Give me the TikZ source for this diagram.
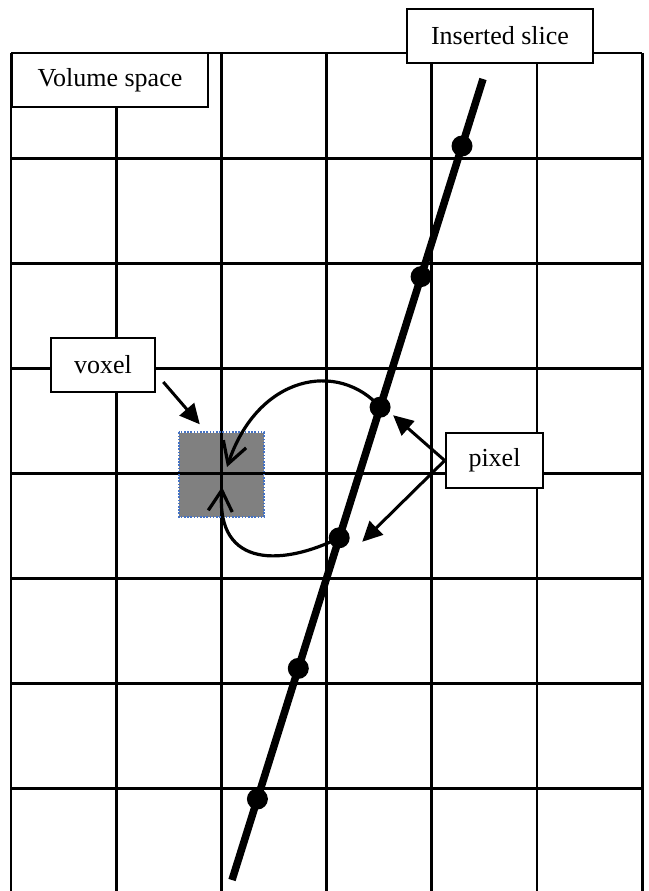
\documentclass[tikz,border=0pt]{standalone}
\usepackage{fontspec}
\setmainfont{Liberation Serif}
\usetikzlibrary{arrows.meta,calc}
\definecolor{dotblue}{RGB}{68,114,196}
\definecolor{voxgrey}{RGB}{128,128,128}
\tikzset{
  gridline/.style={line width=2.8pt,black},
  labelbox/.style={draw,fill=white,line width=2.6pt,inner sep=0pt,font=\fontsize{26}{30}\selectfont},
  slice/.style={line width=7.5pt,black},
  slicedot/.style={circle,fill=black,minimum size=21pt,inner sep=0pt},
  pointer/.style={line width=3pt,-{Triangle[length=20pt,width=19pt]}},
  loop/.style={line width=3.2pt,-{Straight Barb[length=21pt,width=24pt,line width=3.2pt]}},
}
\begin{document}
\begin{tikzpicture}[x=1pt,y=-1pt]
\useasboundingbox (0,0) rectangle (648,891);
% voxel fill
\node[minimum width=85pt,minimum height=84pt,inner sep=0pt,fill=voxgrey] (vox) at (221.5,474.5) {};
% grid
\foreach \i in {0,...,6} {
  \draw[gridline] ({11+105.2*\i},53) -- ({11+105.2*\i},891);
}
\foreach \j in {0,...,7} {
  \draw[gridline] (11,{53+105.1*\j}) -- (642.2,{53+105.1*\j});
}
% voxel dotted border
\draw[dotblue,line width=2pt,dash pattern=on 1.6pt off 1.6pt] (vox.north west) rectangle (vox.south east);
% slice line
\coordinate (st) at (483,79);
\coordinate (sb) at (232,880);
\draw[slice,line cap=butt] (st) -- (sb);
\node[slicedot] (d1) at (462.0,146.0) {};
\node[slicedot] (d2) at (421.1,276.6) {};
\node[slicedot] (d3) at (380.1,407.2) {};
\node[slicedot] (d4) at (339.2,537.8) {};
\node[slicedot] (d5) at (298.3,668.4) {};
\node[slicedot] (d6) at (257.4,799.0) {};
% labels
\node[labelbox,minimum width=196pt,minimum height=54pt] (vs) at (110,80) {Volume space};
\node[labelbox,minimum width=186pt,minimum height=54pt] (is) at (500,36) {Inserted slice};
\node[labelbox,minimum width=104pt,minimum height=54pt] (voxel) at (103,365) {voxel};
\node[labelbox,minimum width=97pt,minimum height=55pt] (pixel) at (494.5,460.5) {pixel};
% pointers
\draw[pointer] ($(voxel.east)+(7,17)$) -- ($(vox.north west)+(21,-8)$);
\draw[pointer] (pixel.west) -- ($(d3)+(13,8)$);
\draw[pointer] (pixel.west) -- ($(d4)+(23,4)$);
% loops from pixels to voxel
\draw[loop] (d3.center) .. controls (338,360) and (258,375) .. ($(vox.center)+(5.5,-7.5)$);
\draw[loop] (d4.center) .. controls (285,565) and (216,570) .. ($(vox.center)+(0.5,12.5)$);
\end{tikzpicture}
\end{document}
